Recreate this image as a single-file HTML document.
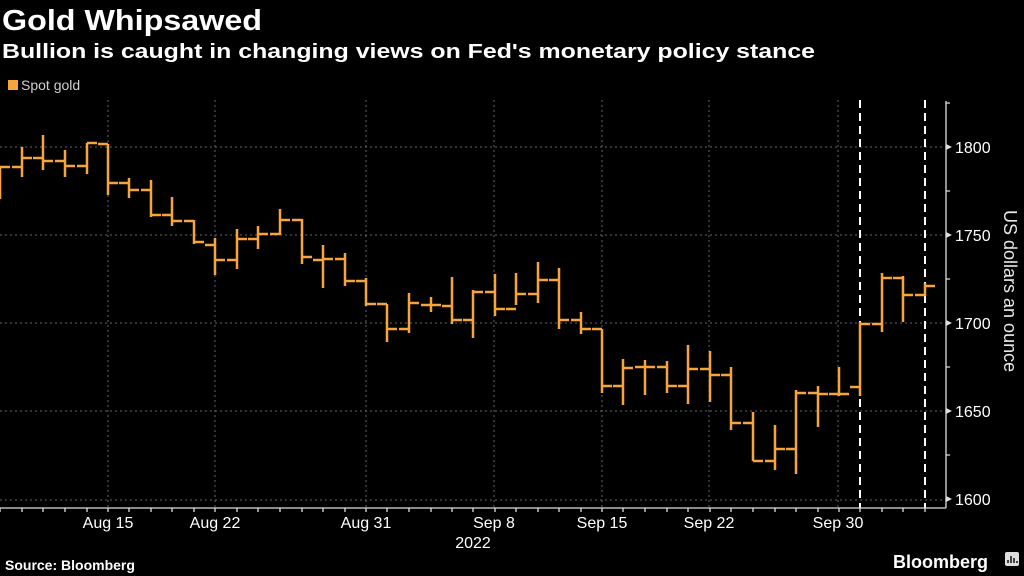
<!DOCTYPE html>
<html><head><meta charset="utf-8"><style>
html,body{margin:0;padding:0;background:#000;width:1024px;height:576px;overflow:hidden}
svg{display:block}
text{font-family:"Liberation Sans","DejaVu Sans",sans-serif;fill:#fff}
</style></head><body>
<svg width="1024" height="576" viewBox="0 0 1024 576">
<rect width="1024" height="576" fill="#000"/>
<text x="2" y="30" font-size="29" font-weight="bold" textLength="260" lengthAdjust="spacingAndGlyphs">Gold Whipsawed</text>
<text x="2" y="58" font-size="20" font-weight="bold" textLength="813" lengthAdjust="spacingAndGlyphs">Bullion is caught in changing views on Fed's monetary policy stance</text>
<rect x="8" y="80" width="10" height="10" fill="#f6a43c"/>
<text x="21" y="90" font-size="14" style="fill:#d0d0d0">Spot gold</text>
<g stroke="#666" stroke-width="1" stroke-dasharray="2,3">
<line x1="0" y1="147" x2="946" y2="147"/><line x1="0" y1="235" x2="946" y2="235"/><line x1="0" y1="323" x2="946" y2="323"/><line x1="0" y1="411" x2="946" y2="411"/><line x1="0" y1="500" x2="946" y2="500"/>
<line x1="108" y1="100" x2="108" y2="508"/><line x1="215" y1="100" x2="215" y2="508"/><line x1="366" y1="100" x2="366" y2="508"/><line x1="494" y1="100" x2="494" y2="508"/><line x1="602" y1="100" x2="602" y2="508"/><line x1="709" y1="100" x2="709" y2="508"/><line x1="838" y1="100" x2="838" y2="508"/>
</g>
<g stroke="#fff" stroke-width="2" stroke-dasharray="8,5">
<line x1="860" y1="100" x2="860" y2="508"/><line x1="925" y1="100" x2="925" y2="508"/>
</g>
<g stroke="#ddd" stroke-width="1.3" fill="none">
<line x1="946" y1="101" x2="946" y2="508"/><line x1="0" y1="508" x2="946" y2="508"/>
<path d="M946 103H950M946 191H950M946 279H950M946 367H950M946 455H950"/>
<path d="M0 508V512M22 508V512M43 508V512M65 508V512M87 508V512M108 508V512M129 508V512M151 508V512M172 508V512M194 508V512M215 508V512M237 508V512M258 508V512M280 508V512M302 508V512M323 508V512M345 508V512M366 508V512M387 508V512M409 508V512M431 508V512M452 508V512M473 508V512M495 508V512M516 508V512M538 508V512M559 508V512M581 508V512M602 508V512M623 508V512M645 508V512M667 508V512M688 508V512M710 508V512M731 508V512M753 508V512M775 508V512M796 508V512M818 508V512M839 508V512M860 508V512M882 508V512M903 508V512M925 508V512"/>
</g>
<g fill="#ddd"><path d="M946 144L952 147L946 150Z"/><path d="M946 232L952 235L946 238Z"/><path d="M946 320L952 323L946 326Z"/><path d="M946 408L952 411L946 414Z"/><path d="M946 496L952 499L946 502Z"/></g>
<g font-size="16" style="fill:#e8e8e8">
<text x="955" y="153">1800</text><text x="955" y="241">1750</text><text x="955" y="329">1700</text><text x="955" y="417">1650</text><text x="955" y="505">1600</text>
</g>
<text transform="translate(1004,210) rotate(90)" font-size="18" style="fill:#e8e8e8">US dollars an ounce</text>
<g font-size="16" text-anchor="middle" style="fill:#e8e8e8">
<text x="108" y="528">Aug 15</text><text x="215" y="528">Aug 22</text><text x="366" y="528">Aug 31</text><text x="494" y="528">Sep 8</text><text x="602" y="528">Sep 15</text><text x="709" y="528">Sep 22</text><text x="838" y="528">Sep 30</text>
<text x="473" y="548">2022</text>
</g>
<text x="5" y="570" font-size="14" font-weight="bold">Source: Bloomberg</text>
<text x="893" y="568" font-size="18" font-weight="bold">Bloomberg</text>
<rect x="1005" y="552" width="14" height="14" rx="2" fill="#ddd"/>
<path d="M1008 563V560M1011 563V556M1014 563V558M1017 563V561" stroke="#000" stroke-width="1.4"/>
<path fill="none" stroke="#f6a43c" stroke-width="2.5" d="M0 167V199M0 167H10M22 147V177M12 167H22M22 158H32M43 135V170M33 158H43M43 161H53M65 150V177M55 161H65M65 166H75M87 143V174M77 166H87M87 143H97M108 144V195M98 144H108M108 183H118M129 178V198M119 183H129M129 190H139M151 180V217M141 190H151M151 215H161M172 197V226M162 215H172M172 221H182M194 220V244M184 221H194M194 242H204M215 238V275M205 245H215M215 260H225M237 229V269M227 260H237M237 239H247M258 226V249M248 239H258M258 234H268M280 209V235M270 234H280M280 220H290M302 219V264M292 220H302M302 257H312M323 245V288M313 260H323M323 259H333M345 253V286M335 259H345M345 281H355M366 278V306M356 281H366M366 304H376M387 304V342M377 304H387M387 329H397M409 293V333M399 329H409M409 303H419M431 297V312M421 305H431M431 305H441M452 277V324M442 306H452M452 320H462M473 290V338M463 320H473M473 292H483M495 274V316M485 292H495M495 309H505M516 273V305M506 309H516M516 294H526M538 262V303M528 294H538M538 280H548M559 268V329M549 280H559M559 320H569M581 312V334M571 320H581M581 329H591M602 329V393M592 329H602M602 386H612M623 359V405M613 386H623M623 368H633M645 360V395M635 367H645M645 367H655M667 361V393M657 367H667M667 386H677M688 345V404M678 386H688M688 369H698M710 351V402M700 369H710M710 375H720M731 367V430M721 375H731M731 423H741M753 412V461M743 423H753M753 461H763M775 425V470M765 461H775M775 449H785M796 390V474M786 449H796M796 393H806M818 386V427M808 393H818M818 394H828M839 367V396M829 394H839M839 394H849M860 322V396M850 387H860M860 324H870M882 273V332M872 324H882M882 278H892M903 276V322M893 278H903M903 295H913M925 283V296M915 295H925M925 286H935"/>
</svg>
</body></html>
